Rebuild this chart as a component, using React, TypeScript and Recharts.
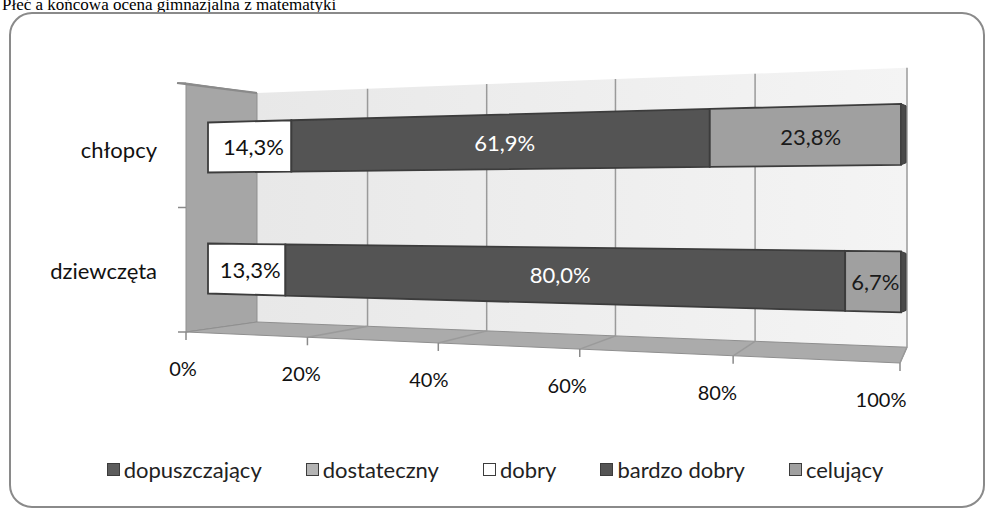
import { BarChart, Bar, XAxis, YAxis, Legend, LabelList, Customized } from 'recharts'

const groups = ['chłopcy', 'dziewczęta']
const grades = ['dopuszczający', 'dostateczny', 'dobry', 'bardzo dobry', 'celujący']
const dopuszczajacy = [0, 0]
const dostateczny = [0, 0]
const dobry = [14.3, 13.3]
const bardzoDobry = [61.9, 80.0]
const celujacy = [23.8, 6.7]
const percentTicks = [0, 20, 40, 60, 80, 100]

const gradeColors = ['#5c5c5c', '#b4b4b4', '#ffffff', '#545454', '#a0a0a0']
const labelColors = ['#ffffff', '#111111', '#111111', '#ffffff', '#1a1a1a']

const rows = groups.map((group, i) => ({
  group,
  g0: dopuszczajacy[i],
  g1: dostateczny[i],
  g2: dobry[i],
  g3: bardzoDobry[i],
  g4: celujacy[i],
}))

// flat plot box (bar plane, left edge) and the fake 3d room around it
const W = 990
const H = 510
const PLOT_L = 208
const PLOT_R = 901
const PLOT_T = 86.5
const PLOT_B = 328.5
const MID_Y = 207.5
const DEPTH = 1.22
const BACK_L = 257
const BACK_R = 907
const BACK_HALF = 114.5
const FRONT_L = 186
const FRONT_R = 900
const FRONT_TOP = 83
const FRONT_Y0 = 332
const FRONT_Y1 = 363

const FONT = 'Lato, "Open Sans", sans-serif'

const persp = (u: number) => u / (u + (1 - u) * DEPTH)
const grow = (u: number) => DEPTH / (u + (1 - u) * DEPTH)
const toU = (fx: number) => (fx - PLOT_L) / (PLOT_R - PLOT_L)
const px = (fx: number) => PLOT_L + (PLOT_R - PLOT_L) * persp(toU(fx))
const py = (fx: number, fy: number) => MID_Y + (fy - MID_Y) * grow(toU(fx))

const fmt = (v: number) => v.toFixed(1).replace('.', ',') + '%'

const back = (u: number, s: number) => [
  BACK_L + (BACK_R - BACK_L) * persp(u),
  MID_Y + s * BACK_HALF * grow(u),
]
const front = (u: number) => [
  FRONT_L + (FRONT_R - FRONT_L) * persp(u),
  FRONT_Y0 + (FRONT_Y1 - FRONT_Y0) * persp(u),
]
const pts = (list: number[][]) => list.map((p) => p.join(',')).join(' ')

function Room() {
  const inner = percentTicks.filter((t) => t > 0 && t < 100).map((t) => t / 100)
  return (
    <g>
      <text x={2} y={10} fontFamily='"Liberation Serif", serif' fontSize={17} fill="#000">
        Płeć a końcowa ocena gimnazjalna z matematyki
      </text>
      <rect x={10} y={13} width={974} height={494} rx={22} fill="none" stroke="#8a8a8a" strokeWidth={2} />
      <defs>
        <linearGradient id="backWall" x1="0" y1="0" x2="1" y2="0">
          <stop offset="0%" stopColor="#e8e8e8" />
          <stop offset="100%" stopColor="#f4f4f4" />
        </linearGradient>
      </defs>
      <polygon points={pts([back(0, -1), back(1, -1), back(1, 1), back(0, 1)])} fill="url(#backWall)" />
      <polygon
        points={pts([[FRONT_L, FRONT_TOP], back(0, -1), back(0, 1), front(0)])}
        fill="#a6a6a6"
        stroke="#8f8f8f"
      />
      <polygon points={pts([front(0), back(0, 1), back(1, 1), front(1)])} fill="#ababab" stroke="#8f8f8f" />
      {inner.map((u) => (
        <polyline
          key={u}
          points={pts([back(u, -1), back(u, 1), front(u)])}
          fill="none"
          stroke="#9a9a9a"
          strokeWidth={1.5}
        />
      ))}
      <polyline points={pts([back(1, -1), back(1, 1), front(1)])} fill="none" stroke="#9a9a9a" strokeWidth={1.5} />
      <line x1={FRONT_L - 9} y1={FRONT_TOP} x2={back(0, -1)[0]} y2={back(0, -1)[1]} stroke="#8a8a8a" strokeWidth={2} />
      {[FRONT_TOP, MID_Y, FRONT_Y0].map((y) => (
        <line key={y} x1={FRONT_L - 8} x2={FRONT_L} y1={y} y2={y} stroke="#8a8a8a" strokeWidth={1.5} />
      ))}
    </g>
  )
}

function Slab(props: any) {
  const { x, y, width, height, fill, end } = props
  if (!width || width <= 0) return null
  const x1 = x + width
  const face = [
    [px(x), py(x, y)],
    [px(x1), py(x1, y)],
    [px(x1), py(x1, y + height)],
    [px(x), py(x, y + height)],
  ]
  return (
    <g>
      <polygon points={pts(face)} fill={fill} stroke="#3c3c3c" strokeWidth={1.8} />
      {end && (
        <polygon
          points={pts([
            face[1],
            [face[1][0] + 5, face[1][1] + 2],
            [face[2][0] + 5, face[2][1] - 2],
            face[2],
          ])}
          fill="#4a4a4a"
          stroke="#3c3c3c"
        />
      )}
    </g>
  )
}

// labels sit in the middle of the bar's depth, between the flat and the projected centre
const pctLabel = (color: string) => (p: any) => {
  const { x, y, width, height, value } = p
  if (!value) return null
  const cx = x + width / 2
  return (
    <text
      x={(px(cx) + cx) / 2}
      y={py(cx, y + height / 2)}
      textAnchor="middle"
      dominantBaseline="central"
      fill={color}
      fontSize={22}
      fontFamily={FONT}
    >
      {fmt(Number(value))}
    </text>
  )
}

function FloorTick(props: any) {
  const { payload } = props
  const u = payload.value / 100
  const [fx, fy] = front(u)
  return (
    <g>
      <line x1={fx} x2={fx} y1={fy} y2={fy + 8} stroke="#8a8a8a" strokeWidth={1.5} />
      <text
        x={fx - 3 - 16 * u}
        y={fy + 36}
        textAnchor="middle"
        dominantBaseline="central"
        fontSize={20}
        fontFamily={FONT}
        fill="#111"
      >
        {payload.value}%
      </text>
    </g>
  )
}

function GroupTick(props: any) {
  const { y, payload } = props
  return (
    <text x={157} y={y + 2} textAnchor="end" dominantBaseline="central" fontSize={22} fontFamily={FONT} fill="#111">
      {payload.value}
    </text>
  )
}

function LegendRow() {
  return (
    <div
      style={{
        display: 'flex',
        justifyContent: 'center',
        gap: 44,
        fontFamily: FONT,
        fontSize: 22,
        color: '#222',
      }}
    >
      {grades.map((g, i) => (
        <span key={g} style={{ display: 'flex', alignItems: 'center' }}>
          <span
            style={{
              width: 11,
              height: 11,
              background: gradeColors[i],
              border: '1.5px solid #3c3c3c',
              marginRight: 4,
            }}
          />
          {g}
        </span>
      ))}
    </div>
  )
}

export default function App() {
  const keys = ['g0', 'g1', 'g2', 'g3', 'g4']
  return (
    <div style={{ position: 'absolute', left: 0, top: 0, width: W, height: H, background: '#fff' }}>
      <BarChart
        width={W}
        height={H}
        data={rows}
        layout="vertical"
        margin={{ top: PLOT_T, right: W - PLOT_R, bottom: H - PLOT_B - 30, left: PLOT_L - 60 }}
        barSize={50}
      >
        <Customized component={<Room />} />
        <XAxis
          type="number"
          domain={[0, 100]}
          ticks={percentTicks}
          height={30}
          axisLine={false}
          tickLine={false}
          tick={<FloorTick />}
        />
        <YAxis type="category" dataKey="group" width={60} axisLine={false} tickLine={false} tick={<GroupTick />} />
        <Legend
          layout="horizontal"
          verticalAlign="middle"
          align="center"
          wrapperStyle={{ top: 456, left: 0, width: W }}
          content={<LegendRow />}
        />
        {keys.map((k, i) => (
          <Bar
            key={k}
            dataKey={k}
            name={grades[i]}
            stackId="a"
            fill={gradeColors[i]}
            isAnimationActive={false}
            shape={(p: any) => <Slab {...p} end={i === keys.length - 1} />}
          >
            <LabelList dataKey={k} content={pctLabel(labelColors[i])} />
          </Bar>
        ))}
      </BarChart>
    </div>
  )
}
